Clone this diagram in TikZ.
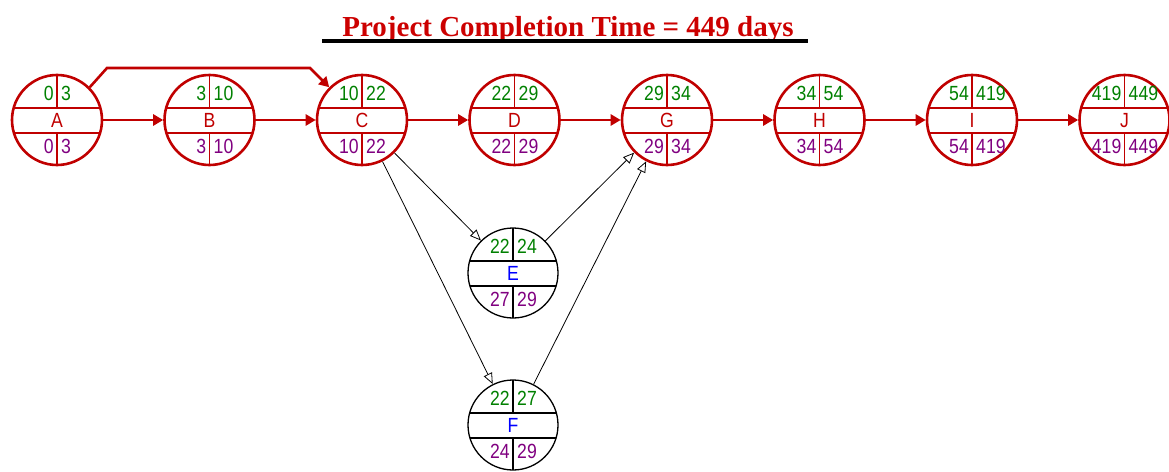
\documentclass[tikz,border=0pt]{standalone}
\usepackage{fontspec}
\setmainfont{Liberation Serif}
\newfontfamily\arialf[FakeStretch=0.86]{Liberation Sans}
\usetikzlibrary{arrows.meta}
\definecolor{crit}{RGB}{192,0,0}
\definecolor{esgreen}{RGB}{0,128,0}
\definecolor{lspurple}{RGB}{128,0,128}
\definecolor{titlered}{RGB}{204,0,0}
\definecolor{nameblue}{RGB}{0,0,255}
\tikzset{
  critnode/.style={circle, draw=crit, line width=2.6pt, minimum size=90pt, inner sep=0pt},
  normnode/.style={circle, draw=black, line width=1.3pt, minimum size=90pt, inner sep=0pt},
  critchord/.style={draw=crit, line width=1.8pt},
  normchord/.style={draw=black, line width=1.2pt},
  numtxt/.style={font=\arialf\fontsize{20.5}{20.5}\selectfont, inner sep=0pt},
  critname/.style={numtxt, text=crit},
  normname/.style={numtxt, text=nameblue},
  critarrow/.style={draw=crit, line width=2.6pt, -{Triangle[length=10pt,width=11pt]}},
  normarrow/.style={draw=black, line width=0.8pt, -{Triangle[open,length=11pt,width=9pt]}},
}
\newcommand{\pertnode}[8]{%
  \node[#4node] (#1) at (#2,#3) {};
  \begin{scope}
    \clip (#2,#3) circle [radius=45pt];
    \draw[#4chord] ({#2-50},{#3-12}) -- ({#2+50},{#3-12});
    \draw[#4chord] ({#2-50},{#3+13}) -- ({#2+50},{#3+13});
    \draw[#4chord] (#2,{#3-50}) -- (#2,{#3-12});
    \draw[#4chord] (#2,{#3+13}) -- (#2,{#3+50});
  \end{scope}
  \node[numtxt, text=esgreen, anchor=base east] (#1es) at ({#2-3},{#3-20}) {#5};
  \node[numtxt, text=esgreen, anchor=base west] (#1ef) at ({#2+4},{#3-20}) {#6};
  \node[numtxt, text=lspurple, anchor=base east] (#1ls) at ({#2-3},{#3+33}) {#7};
  \node[numtxt, text=lspurple, anchor=base west] (#1lf) at ({#2+4},{#3+33}) {#8};
  \node[#4name, anchor=base] (#1nm) at (#2,{#3+7}) {#1};
}
\begin{document}
\begin{tikzpicture}[x=1pt,y=-1pt]
\useasboundingbox (0,0) rectangle (1169,471);
\node[font=\bfseries\fontsize{29}{29}\selectfont, text=titlered, anchor=base, inner sep=0pt] (title) at (568,36) {Project Completion Time = 449 days};
\draw[line width=4pt] (322,41) -- (808,41);

\pertnode{A}{57}{120}{crit}{0}{3}{0}{3}
\pertnode{B}{209.5}{120}{crit}{3}{10}{3}{10}
\pertnode{C}{362}{120}{crit}{10}{22}{10}{22}
\pertnode{D}{514.5}{120}{crit}{22}{29}{22}{29}
\pertnode{G}{667}{120}{crit}{29}{34}{29}{34}
\pertnode{H}{819.5}{120}{crit}{34}{54}{34}{54}
\pertnode{I}{972}{120}{crit}{54}{419}{54}{419}
\pertnode{J}{1124.5}{120}{crit}{419}{449}{419}{449}
\pertnode{E}{513}{273}{norm}{22}{24}{27}{29}
\pertnode{F}{513}{425}{norm}{22}{27}{24}{29}

\draw[critarrow] (A) -- (B);
\draw[critarrow] (B) -- (C);
\draw[critarrow] (C) -- (D);
\draw[critarrow] (D) -- (G);
\draw[critarrow] (G) -- (H);
\draw[critarrow] (H) -- (I);
\draw[critarrow] (I) -- (J);
\draw[critarrow] (A.45) -- (107,68) -- (310,68) -- (C.135);

\draw[normarrow] (C) -- (E);
\draw[normarrow] (C) -- (F);
\draw[normarrow] (E) -- (G);
\draw[normarrow] (F) -- (G);
\end{tikzpicture}
\end{document}
